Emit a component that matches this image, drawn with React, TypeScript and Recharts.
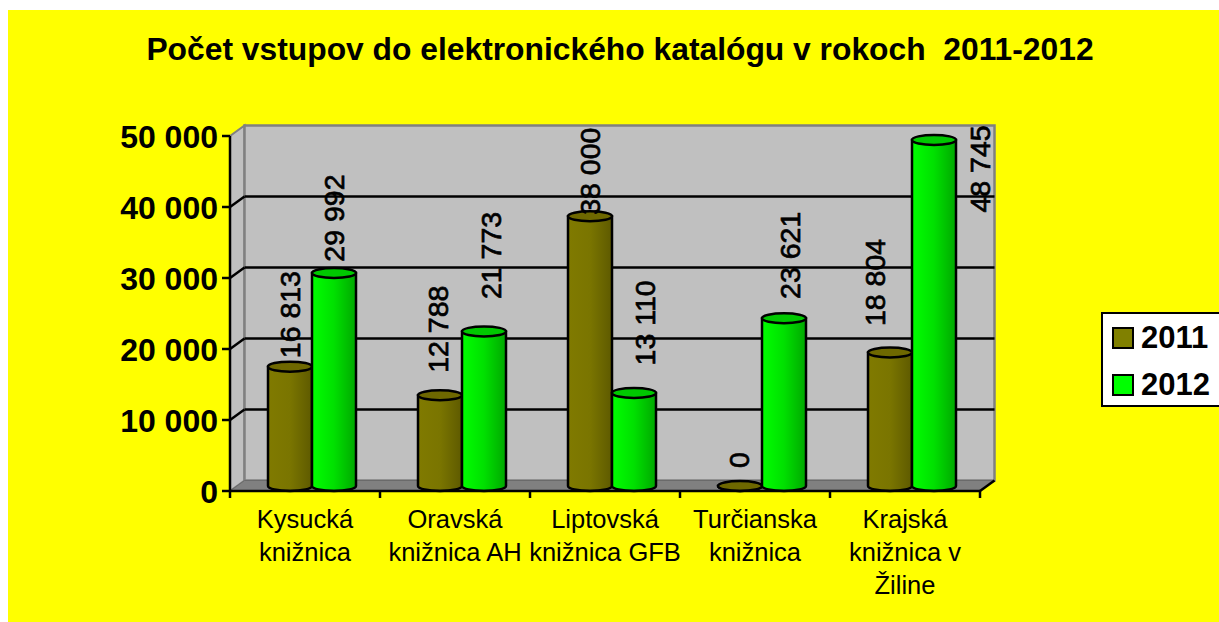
import React from "react";
import { BarChart, Bar, XAxis, YAxis, CartesianGrid, Legend, LabelList } from "recharts";

const categories = ["Kysucká\nknižnica", "Oravská\nknižnica AH", "Liptovská\nknižnica GFB", "Turčianska\nknižnica", "Krajská\nknižnica v\nŽiline"];
const values2011 = [16813, 12788, 38000, 0, 18804];
const values2012 = [29992, 21773, 13110, 23621, 48745];
const yTicks = [0, 10000, 20000, 30000, 40000, 50000];
const title = "Počet vstupov do elektronického katalógu v rokoch  2011-2012";

// hand-placed data label shifts in the original, relative to the bar's top
const labelShift2011 = [[0, -52], [-2, -66], [0, -45], [-1, -26], [-15, -70]];
const labelShift2012 = [[0, -55], [7, -76], [11, -70], [6, -63], [46, 29]];

const W = 1211, H = 612;
const PLOT = { x: 222, y: 126, w: 750, h: 355 };
const BACK = { dx: 14.5, dy: -10.5 };
const MID = { dx: 7, dy: -5 };
const RY = 5;
const FONT = "'Liberation Sans', Arial, sans-serif";

const data = categories.map((name, i) => ({ name, y2011: values2011[i], y2012: values2012[i] }));
const fmt = (v: number) => String(v).replace(/\B(?=(\d{3})+$)/g, " ");

function Backdrop() {
  const { x, y, w, h } = PLOT;
  const b = y + h;
  const r = x + w;
  const n = categories.length;
  return (
    <g>
      <polygon points={`${x},${y} ${x + BACK.dx},${y + BACK.dy} ${x + BACK.dx},${b + BACK.dy} ${x},${b}`} fill="#c0c0c0" stroke="#808080" strokeWidth={2} />
      <rect x={x + BACK.dx} y={y + BACK.dy} width={w} height={h} fill="#c0c0c0" stroke="#808080" strokeWidth={2.5} />
      <polygon points={`${x},${b} ${x + BACK.dx},${b + BACK.dy} ${r + BACK.dx},${b + BACK.dy} ${r},${b}`} fill="#808080" stroke="#6a6a6a" strokeWidth={1} />
      <line x1={r} y1={b} x2={r + BACK.dx} y2={b + BACK.dy} stroke="#000" strokeWidth={2.5} />
      {categories.concat("").map((_, i) => (
        <line key={i} x1={x + (w * i) / n} x2={x + (w * i) / n} y1={b} y2={b + 7} stroke="#000" strokeWidth={2.5} />
      ))}
    </g>
  );
}

// first grid layer: paints the 3-D walls once, at the top line of the value axis
function wallLine(p: any) {
  return Math.abs(p.y1 - PLOT.y) < 1 ? <Backdrop key={p.key} /> : <g key={p.key} />;
}

function gridLine(p: any) {
  const top = Math.abs(p.y1 - PLOT.y) < 1;
  const bottom = Math.abs(p.y1 - (PLOT.y + PLOT.h)) < 1;
  if (top || bottom) return <g key={p.key} />;
  return (
    <g key={p.key}>
      <line x1={p.x1} y1={p.y1} x2={p.x1 + BACK.dx} y2={p.y1 + BACK.dy} stroke="#000" strokeWidth={2.5} />
      <line x1={p.x1 + BACK.dx} y1={p.y1 + BACK.dy} x2={p.x2 + BACK.dx} y2={p.y2 + BACK.dy} stroke="#000" strokeWidth={2.5} />
    </g>
  );
}

function Cylinder(props: any) {
  const { x, y, width, height, grad, top } = props;
  const X = x + MID.dx, Y = y + MID.dy, w = width, rx = w / 2;
  const d = `M${X},${Y} L${X},${Y + height} A${rx},${RY} 0 0 0 ${X + w},${Y + height} L${X + w},${Y} Z`;
  return (
    <g>
      <path d={d} fill={`url(#${grad})`} stroke="#000" strokeWidth={2.5} />
      <ellipse cx={X + rx} cy={Y} rx={rx} ry={RY} fill={top} stroke="#000" strokeWidth={2.5} />
    </g>
  );
}

function makeLabel(shift: number[][]) {
  return (p: any) => {
    const [dx, dy] = shift[p.index];
    const cx = p.x + p.width / 2 + MID.dx + dx;
    const cy = p.y + MID.dy + dy;
    return (
      <text x={cx} y={cy} transform={`rotate(-90 ${cx} ${cy})`} textAnchor="middle" dominantBaseline="central" fontFamily={FONT} fontSize={28.5} fill="#000" stroke="#000" strokeWidth={0.7}>
        {fmt(p.value)}
      </text>
    );
  };
}

function CategoryTick(p: any) {
  const lines = String(p.payload.value).split("\n");
  return (
    <g>
      {lines.map((t, i) => (
        <text key={i} x={p.x} y={p.y + 29 + i * 33} textAnchor="middle" fontFamily={FONT} fontSize={25.5} fill="#000">{t}</text>
      ))}
    </g>
  );
}

function LegendBox(p: any) {
  return (
    <div style={{ boxSizing: "border-box", width: 130, height: 95, background: "#fff", border: "2.5px solid #000", padding: "0 0 0 9px", fontFamily: FONT, fontWeight: 700, fontSize: 31, lineHeight: "47px", color: "#000", whiteSpace: "nowrap" }}>
      {(p.payload || []).map((e: any) => (
        <div key={e.value} style={{ display: "flex", alignItems: "center", height: 47 }}>
          <span style={{ boxSizing: "border-box", width: 22, height: 22, background: e.color, border: "2.5px solid #000", marginRight: 7 }} />
          {e.value}
        </div>
      ))}
    </div>
  );
}

export default function App() {
  return (
    <div style={{ position: "absolute", left: 8, top: 10, width: W, height: H, background: "#ffff00", overflow: "hidden" }}>
      <BarChart width={W} height={H} data={data} barSize={44} barGap={0} barCategoryGap={31}
        margin={{ top: PLOT.y, left: 0, right: W - PLOT.x - PLOT.w - 118, bottom: 0 }}>
        <defs>
          <linearGradient id="olive" x1="0" x2="1" y1="0" y2="0">
            <stop offset="0" stopColor="#807a00" />
            <stop offset="0.5" stopColor="#7a7500" />
            <stop offset="1" stopColor="#5e5a00" />
          </linearGradient>
          <linearGradient id="green" x1="0" x2="1" y1="0" y2="0">
            <stop offset="0" stopColor="#00ff00" />
            <stop offset="0.5" stopColor="#00e000" />
            <stop offset="1" stopColor="#00a800" />
          </linearGradient>
        </defs>
        <text x={612} y={50} textAnchor="middle" fontFamily={FONT} fontWeight={700} fontSize={31.8} fill="#000" style={{ whiteSpace: "pre" }}>{title}</text>
        <CartesianGrid vertical={false} horizontal={wallLine} />
        <CartesianGrid vertical={false} horizontal={gridLine} />
        <XAxis dataKey="name" interval={0} height={H - PLOT.y - PLOT.h} tick={<CategoryTick />} tickLine={false} axisLine={{ stroke: "#000", strokeWidth: 2.5 }} />
        <YAxis width={PLOT.x} domain={[0, 50000]} ticks={yTicks} tickFormatter={fmt} tickSize={8} tickMargin={4} interval={0}
          axisLine={{ stroke: "#000", strokeWidth: 2.5 }} tickLine={{ stroke: "#000", strokeWidth: 2.5 }}
          tick={{ fontFamily: FONT, fontWeight: 700, fontSize: 32, fill: "#000", dy: 1 }} />
        <Legend layout="vertical" align="right" verticalAlign="middle" content={<LegendBox />} wrapperStyle={{ left: 1093, top: 302, right: "auto", width: 118 }} />
        <Bar dataKey="y2011" name="2011" fill="#808000" isAnimationActive={false} shape={<Cylinder grad="olive" top="#6e6800" />}>
          <LabelList dataKey="y2011" content={makeLabel(labelShift2011)} />
        </Bar>
        <Bar dataKey="y2012" name="2012" fill="#00ff00" isAnimationActive={false} shape={<Cylinder grad="green" top="#00c800" />}>
          <LabelList dataKey="y2012" content={makeLabel(labelShift2012)} />
        </Bar>
      </BarChart>
    </div>
  );
}
